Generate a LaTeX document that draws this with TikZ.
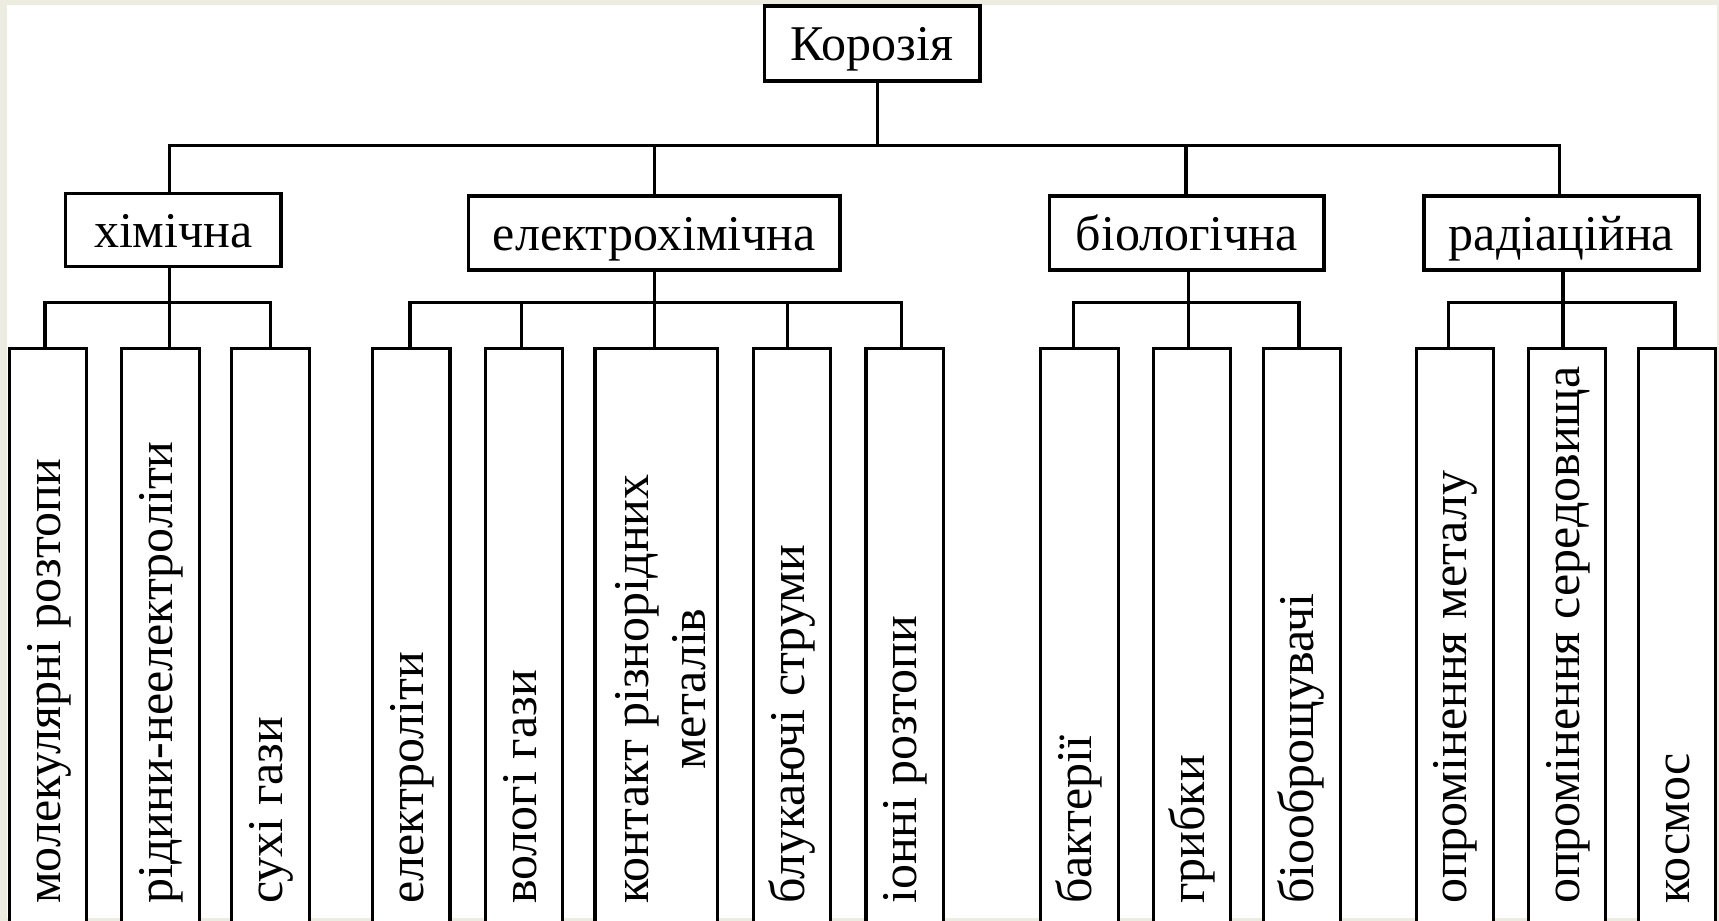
\documentclass[tikz,border=0pt]{standalone}
\usepackage{fontspec}
\setmainfont{Liberation Serif}
\usetikzlibrary{calc}
\definecolor{bgbeige}{RGB}{236,236,224}
\tikzset{
  box/.style={draw, line width=3.2pt, inner sep=0pt, fill=white},
  lbl/.style={font=\fontsize{50}{57}\selectfont, text height=36pt, text depth=2pt},
  leaftxt/.style={font=\fontsize{50}{57}\selectfont, rotate=90, anchor=base west, inner sep=0pt},
  leafbox/.style={box, minimum width=77.4pt, minimum height=581.7pt},
  conn/.style={line width=3.2pt},
}
\begin{document}
\begin{tikzpicture}[x=1pt,y=-1pt]
\useasboundingbox (0,0) rectangle (1719,921);
\fill[bgbeige] (0,0) rectangle (1719,921);
\fill[white] (7,5) rectangle (1717,918);

% root and level 2
\node[box, lbl, minimum width=215.7pt, minimum height=75pt] (kor) at (872.2,43.5) {Корозія};
\node[box, lbl, minimum width=215.3pt, minimum height=73.4pt] (khim) at (173.3,230) {хімічна};
\node[box, lbl, minimum width=371.7pt, minimum height=74pt] (el) at (654.2,233) {електрохімічна};
\node[box, lbl, minimum width=274.7pt, minimum height=74pt] (bio) at (1186.7,233) {біологічна};
\node[box, lbl, minimum width=275pt, minimum height=74pt] (rad) at (1561.5,233) {радіаційна};

% leaves
\node[leafbox] (l1) at (48,639.2) {};
\node[leafbox] (l2) at (160.5,639.2) {};
\node[leafbox] (l3) at (270.5,639.2) {};
\node[leafbox] (l4) at (411.35,639.2) {};
\node[leafbox] (l5) at (524.15,639.2) {};
\node[box, minimum width=122.3pt, minimum height=581.7pt] (l6) at (656.15,639.2) {};
\node[leafbox] (l7) at (792.15,639.2) {};
\node[leafbox] (l8) at (904.7,639.2) {};
\node[leafbox] (l9) at (1079.5,639.2) {};
\node[leafbox] (l10) at (1192.15,639.2) {};
\node[leafbox] (l11) at (1301.85,639.2) {};
\node[leafbox] (l12) at (1454.85,639.2) {};
\node[leafbox] (l13) at (1567,639.2) {};
\node[leafbox] (l14) at (1677,639.2) {};

% leaf texts
\node[leaftxt] (t1) at (60,904) {молекулярні розтопи};
\node[leaftxt] (t2) at (172.5,904) {рідини-неелектроліти};
\node[leaftxt] (t3) at (282.5,904) {сухі гази};
\node[leaftxt] (t4) at (423.4,904) {електроліти};
\node[leaftxt] (t5) at (536.2,904) {вологі гази};
\node[leaftxt] (t6a) at (648,904) {контакт різнорідних};
\node[leaftxt, anchor=base] (t6b) at ($(t6a.base)+(57,0)$) {металів};
\node[leaftxt] (t7) at (804.2,904) {блукаючі струми};
\node[leaftxt] (t8) at (916.7,904) {іонні розтопи};
\node[leaftxt] (t9) at (1091.5,904) {бактерії};
\node[leaftxt] (t10) at (1204.2,904) {грибки};
\node[leaftxt] (t11) at (1313.9,904) {біооброщувачі};
\node[leaftxt] (t12) at (1466.9,904) {опромінення металу};
\node[leaftxt] (t13) at (1579,904) {опромінення середовища};
\node[leaftxt] (t14) at (1689,904) {космос};

% junction coordinates
\coordinate (T0) at (877.7,145.3);
\coordinate (T1) at (169.3,145.3);
\coordinate (T2) at (654.3,145.3);
\coordinate (T3) at (1186,145.3);
\coordinate (T4) at (1559.7,145.3);

\coordinate (K1) at (45,302.7);
\coordinate (K2) at (169.3,302.7);
\coordinate (K3) at (270.7,302.7);

\coordinate (E1) at (410,302.7);
\coordinate (E2) at (521.7,302.7);
\coordinate (E3) at (654.3,302.7);
\coordinate (E4) at (787.3,302.7);
\coordinate (E5) at (901.7,302.7);

\coordinate (B1) at (1073.3,302.7);
\coordinate (B2) at (1188.3,302.7);
\coordinate (B3) at (1299,302.7);

\coordinate (R1) at (1448.3,302.7);
\coordinate (R2) at (1563,302.7);
\coordinate (R3) at (1675,302.7);

% top connectors
\draw[conn] (kor.south -| T0) -- (T0);
\draw[conn] (khim.north -| T1) -- (T1) -- (T4) -- (rad.north -| T4);
\draw[conn] (T2) -- (el.north -| T2);
\draw[conn] (T3) -- (bio.north -| T3);

% chemical
\draw[conn] (l1.north -| K1) -- (K1) -- (K3) -- (l3.north -| K3);
\draw[conn] (khim.south -| K2) -- (l2.north -| K2);
% electrochemical
\draw[conn] (l4.north -| E1) -- (E1) -- (E5) -- (l8.north -| E5);
\draw[conn] (l5.north -| E2) -- (E2);
\draw[conn] (el.south -| E3) -- (l6.north -| E3);
\draw[conn] (l7.north -| E4) -- (E4);
% biological
\draw[conn] (l9.north -| B1) -- (B1) -- (B3) -- (l11.north -| B3);
\draw[conn] (bio.south -| B2) -- (l10.north -| B2);
% radiation
\draw[conn] (l12.north -| R1) -- (R1) -- (R3) -- (l14.north -| R3);
\draw[conn] (rad.south -| R2) -- (l13.north -| R2);
\end{tikzpicture}
\end{document}
